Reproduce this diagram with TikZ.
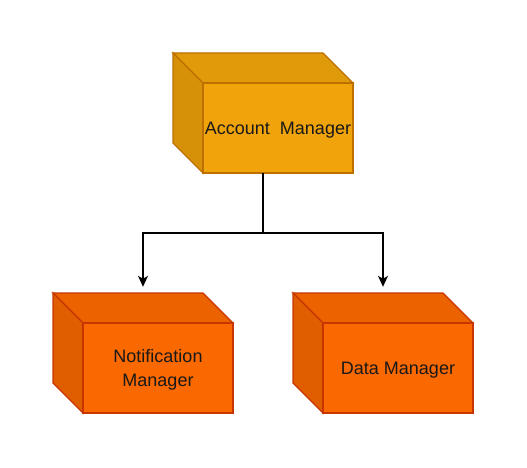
\documentclass[tikz,border=0pt]{standalone}
\usepackage{fontspec}
\setmainfont{Liberation Sans}
\usetikzlibrary{arrows.meta}
\definecolor{accFront}{HTML}{F0A30A}
\definecolor{accTop}{HTML}{E19A09}
\definecolor{accSide}{HTML}{D69108}
\definecolor{accLine}{HTML}{BD7000}
\definecolor{redFront}{HTML}{FA6800}
\definecolor{redTop}{HTML}{EB6300}
\definecolor{redSide}{HTML}{E05E00}
\definecolor{redLine}{HTML}{C73500}
\tikzset{
  cubearea/.style={minimum width=180pt, minimum height=120pt, inner sep=0pt, draw=none},
  cubelabel/.style={font=\fontsize{18pt}{24pt}\selectfont, text=black!90, align=center, inner sep=0pt},
  link/.style={line width=1.4pt, -{Stealth[length=11pt,width=10pt,inset=3pt]}}
}
% #1 name, #2 x left, #3 y top (px), #4 front, #5 top, #6 side, #7 line
\newcommand{\mycube}[7]{%
  \node[cubearea] (#1) at ({#2+90pt},{-#3-60pt}) {};
  \filldraw[fill=#5, draw=#7, line width=1.2pt, line join=miter]
    ({#2},{-#3}) -- ({#2+150pt},{-#3}) -- ({#2+180pt},{-#3-30pt}) -- ({#2+30pt},{-#3-30pt}) -- cycle;
  \filldraw[fill=#6, draw=#7, line width=1.2pt]
    ({#2},{-#3}) -- ({#2+30pt},{-#3-30pt}) -- ({#2+30pt},{-#3-120pt}) -- ({#2},{-#3-90pt}) -- cycle;
  \filldraw[fill=#4, draw=#7, line width=1.2pt]
    ({#2+30pt},{-#3-30pt}) rectangle ({#2+180pt},{-#3-120pt});
}
\begin{document}
\begin{tikzpicture}[x=1pt,y=1pt]
\useasboundingbox (0,0) rectangle (527,-468);
\fill[white] (0,0) rectangle (527,-468);
\mycube{acc}{173pt}{53pt}{accFront}{accTop}{accSide}{accLine}
\node[cubelabel] (acct) at (278,-130) {Account\ \ Manager};
\mycube{notif}{53pt}{293pt}{redFront}{redTop}{redSide}{redLine}
\node[cubelabel] (notift) at (158,-370) {Notification\\Manager};
\mycube{data}{293pt}{293pt}{redFront}{redTop}{redSide}{redLine}
\node[cubelabel] (datat) at (398,-370) {Data Manager};
\coordinate (split) at (263,-233);
\draw[link] (acc.south) -- (split) -| ([yshift=6pt]notif.north);
\draw[link] (acc.south) -- (split) -| ([yshift=6pt]data.north);
\end{tikzpicture}
\end{document}
